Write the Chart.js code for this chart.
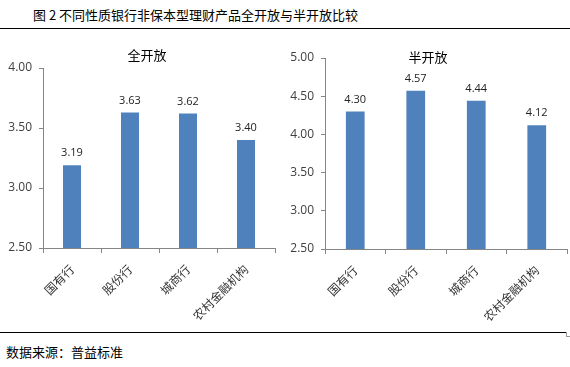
<!DOCTYPE html>
<html>
<head>
<meta charset="utf-8">
<script src="https://cdn.jsdelivr.net/npm/chart.js@4.4.1/dist/chart.umd.min.js"></script>
<style>
html,body{margin:0;padding:0;background:#fff;}
body{width:570px;height:367px;position:relative;overflow:hidden;font-family:"Noto Sans CJK SC","Noto Sans",sans-serif;}
#title{position:absolute;left:33px;top:5px;font-size:13px;color:#000;white-space:nowrap;line-height:20px;}
#line1{position:absolute;left:0;top:28px;width:570px;height:1px;background:#000;}
#line2{position:absolute;left:0;top:332px;width:566px;height:1px;background:#000;}
#mark{position:absolute;left:566px;top:332px;width:3px;height:4px;border:1px solid #999;border-top:none;}
#source{position:absolute;left:6px;top:342px;font-size:13px;color:#000;white-space:nowrap;line-height:20px;}
.wrap{position:absolute;top:30px;width:285px;height:300px;}
#w1{left:0;}
#w2{left:285px;}
</style>
</head>
<body>
<div id="title">图 2 不同性质银行非保本型理财产品全开放与半开放比较</div>
<div id="line1"></div>
<div class="wrap" id="w1"><canvas id="c1" width="285" height="300"></canvas></div>
<div class="wrap" id="w2"><canvas id="c2" width="285" height="300"></canvas></div>
<div id="line2"></div>
<div id="mark"></div>
<div id="source">数据来源：普益标准</div>
<script>
const categories = ["国有行", "股份行", "城商行", "农村金融机构"];
const fullOpenValues = [3.19, 3.63, 3.62, 3.40];
const halfOpenValues = [4.30, 4.57, 4.44, 4.12];
const fullOpenTitle = "全开放";
const halfOpenTitle = "半开放";
const fullOpenTicks = [2.5, 3.0, 3.5, 4.0];
const halfOpenTicks = [2.5, 3.0, 3.5, 4.0, 4.5, 5.0];

const barColor = "#4F81BD";
const axisColor = "#868686";
const textColor = "#404040";

const valueLabels = {
  id: "valueLabels",
  afterDatasetsDraw(chart) {
    const ctx = chart.ctx;
    const meta = chart.getDatasetMeta(0);
    const data = chart.data.datasets[0].data;
    ctx.save();
    ctx.font = '11px "Open Sans", "Liberation Sans", sans-serif';
    ctx.fillStyle = "#222";
    ctx.textAlign = "center";
    ctx.textBaseline = "middle";
    meta.data.forEach((bar, i) => {
      ctx.fillText(data[i].toFixed(2), bar.x, bar.y - 12);
    });
    ctx.restore();
  }
};

const panelTitle = {
  id: "panelTitle",
  afterDraw(chart, args, opts) {
    const ctx = chart.ctx;
    ctx.save();
    ctx.font = '13px "Noto Sans CJK SC", sans-serif';
    ctx.fillStyle = "#000";
    ctx.textAlign = "center";
    ctx.textBaseline = "middle";
    ctx.fillText(opts.text, opts.x, opts.y);
    ctx.restore();
  }
};

function makeChart(id, values, ticks, title, geo) {
  const minV = ticks[0], maxV = ticks[ticks.length - 1];
  return new Chart(document.getElementById(id), {
    type: "bar",
    data: {
      labels: categories,
      datasets: [{
        data: values,
        backgroundColor: barColor,
        borderWidth: 0,
        barPercentage: 1.0,
        categoryPercentage: 0.31
      }]
    },
    plugins: [valueLabels, panelTitle],
    options: {
      responsive: false,
      animation: false,
      devicePixelRatio: 1,
      layout: { padding: { top: geo.top, right: geo.right, bottom: 0, left: 0 } },
      plugins: {
        legend: { display: false },
        tooltip: { enabled: false },
        title: { display: false },
        panelTitle: { text: title, x: geo.tx, y: geo.ty }
      },
      scales: {
        x: {
          offset: true,
          grid: { display: true, drawOnChartArea: false, drawTicks: true, tickLength: 5, offset: true, color: axisColor },
          border: { display: true, color: axisColor, width: 1 },
          ticks: {
            autoSkip: false, minRotation: 45, maxRotation: 45, padding: 9,
            color: "#333",
            font: { family: '"Noto Sans CJK SC", sans-serif', size: 12 }
          },
          afterFit(scale) { scale.height = geo.xh; }
        },
        y: {
          min: minV, max: maxV,
          afterBuildTicks(scale) { scale.ticks = ticks.map(v => ({ value: v })); },
          grid: { display: true, drawOnChartArea: false, drawTicks: true, tickLength: 4, color: axisColor },
          border: { display: true, color: axisColor, width: 1 },
          ticks: {
            padding: 7,
            color: textColor,
            font: { family: '"Open Sans", "Liberation Sans", sans-serif', size: 12 },
            callback: v => Number(v).toFixed(2)
          },
          afterFit(scale) { scale.width = geo.yw; }
        }
      }
    }
  });
}

makeChart("c1", fullOpenValues, fullOpenTicks, fullOpenTitle,
  { top: 38, right: 10, xh: 82, yw: 43, tx: 147, ty: 25 });
makeChart("c2", halfOpenValues, halfOpenTicks, halfOpenTitle,
  { top: 28, right: 3, xh: 81, yw: 40, tx: 143, ty: 27 });
</script>
</body>
</html>
